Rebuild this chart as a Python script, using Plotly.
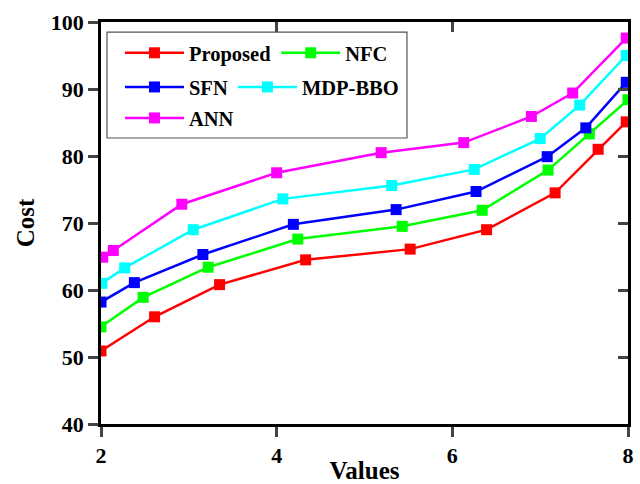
import plotly.graph_objects as go

# ---- data ----
x_proposed = [2.0, 2.61, 3.35, 4.33, 5.52, 6.39, 7.17, 7.66, 7.98]
y_proposed = [50.9, 56.0, 60.8, 64.5, 66.1, 69.0, 74.5, 81.0, 85.1]

x_nfc = [2.0, 2.48, 3.22, 4.24, 5.43, 6.34, 7.09, 7.56, 8.0]
y_nfc = [54.5, 58.9, 63.4, 67.6, 69.5, 71.9, 77.9, 83.3, 88.4]

x_sfn = [2.0, 2.38, 3.16, 4.19, 5.36, 6.27, 7.08, 7.52, 7.98]
y_sfn = [58.2, 61.1, 65.3, 69.8, 72.0, 74.7, 79.9, 84.2, 91.0]

x_mdp = [2.01, 2.27, 3.05, 4.07, 5.31, 6.25, 7.0, 7.45, 7.98]
y_mdp = [61.0, 63.3, 69.0, 73.6, 75.6, 78.0, 82.6, 87.6, 95.0]

x_ann = [2.02, 2.14, 2.92, 4.0, 5.19, 6.13, 6.90, 7.37, 7.98]
y_ann = [64.9, 65.9, 72.8, 77.5, 80.5, 82.0, 85.9, 89.4, 97.6]

x_ticks = [2, 4, 6, 8]
y_ticks = [40, 50, 60, 70, 80, 90, 100]

series = [
    ("Proposed", x_proposed, y_proposed, "#FF0000", "legend"),
    ("NFC", x_nfc, y_nfc, "#00FF00", "legend"),
    ("SFN", x_sfn, y_sfn, "#0000FF", "legend2"),
    ("MDP-BBO", x_mdp, y_mdp, "#00FFFF", "legend2"),
    ("ANN", x_ann, y_ann, "#FF00FF", "legend3"),
]

FONT = "Liberation Serif"

fig = go.Figure()
for name, xs, ys, col, lg in series:
    fig.add_trace(go.Scatter(
        x=xs, y=ys, name=name, mode="lines+markers",
        line=dict(color=col, width=2.5),
        marker=dict(symbol="square", size=11, color=col),
        legend=lg, cliponaxis=True,
    ))

# invisible trace to activate the mirrored (inside-tick) axes
fig.add_trace(go.Scatter(x=[x_ticks[0]], y=[y_ticks[0]], xaxis="x2", yaxis="y2",
                         mode="markers", marker=dict(opacity=0), showlegend=False,
                         hoverinfo="skip"))

tickfont = dict(family=FONT, size=22, color="black", weight="bold")
titlefont = dict(family=FONT, size=25, color="black", weight="bold")

common = dict(ticklen=10, tickwidth=2.5, showline=True, linewidth=2.5, linecolor="black",
              showgrid=False, zeroline=False, automargin=False)

fig.update_layout(
    width=640, height=484,
    margin=dict(l=101, r=12, t=22, b=60),
    paper_bgcolor="white", plot_bgcolor="white",
    xaxis=dict(range=[2, 8], tickvals=x_ticks, ticks="outside", tickfont=tickfont,
               title=dict(text="Values", font=titlefont, standoff=0), **common),
    yaxis=dict(range=[40, 100], tickvals=y_ticks, ticks="outside", tickfont=tickfont,
               title=dict(text="Cost", font=titlefont, standoff=10), **common),
    xaxis2=dict(range=[2, 8], tickvals=x_ticks, overlaying="x", side="top", ticks="inside",
                showticklabels=False, **common),
    yaxis2=dict(range=[40, 100], tickvals=y_ticks, overlaying="y", side="right", ticks="inside",
                showticklabels=False, **common),
    showlegend=True,
)

legfont = dict(family=FONT, size=20.5, color="black", weight="bold")
for key, yv in [("legend", 0.923), ("legend2", 0.838), ("legend3", 0.761)]:
    fig.update_layout(**{key: dict(orientation="h", x=0.036, y=yv, xanchor="left",
                                   yanchor="middle", bgcolor="rgba(0,0,0,0)",
                                   borderwidth=0, font=legfont, itemwidth=59)})

fig.add_shape(type="rect", xref="paper", yref="paper", x0=0.0114, x1=0.5806,
              y0=0.7114, y1=0.975, line=dict(color="#555555", width=1.2),
              fillcolor="rgba(0,0,0,0)")

fig.write_html("out.html")
